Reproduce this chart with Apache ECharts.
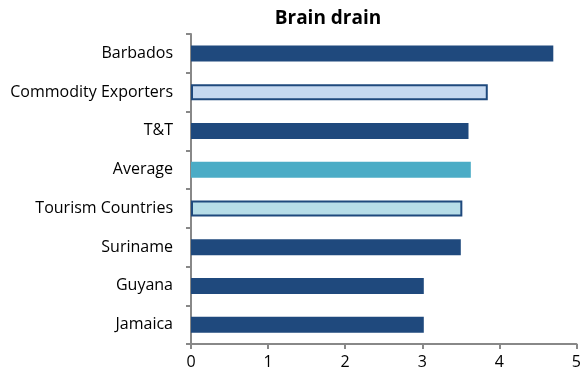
<!DOCTYPE html>
<html><head><meta charset="utf-8">
<script src="https://cdn.jsdelivr.net/npm/echarts@6/dist/echarts.min.js"></script>
<style>html,body{margin:0;padding:0;background:#fff}#c{width:584px;height:383px}</style>
</head><body><div id="c"></div>
<script>
var categories = ["Barbados","Commodity Exporters","T&T","Average","Tourism Countries","Suriname","Guyana","Jamaica"];
var values = [4.70, 3.85, 3.60, 3.63, 3.52, 3.50, 3.02, 3.02];
var xTicks = [0,1,2,3,4,5];

var FONT = "'Open Sans', sans-serif";
function styleFor(name){
  if (name === "Commodity Exporters") return {color:"#c6d9f0", borderColor:"#1f497d", borderWidth:2};
  if (name === "Tourism Countries") return {color:"#b7dde8", borderColor:"#1f497d", borderWidth:2};
  if (name === "Average") return {color:"#4bacc6"};
  return {color:"#1f497d"};
}
var data = categories.map(function(c,i){ return {value: values[i], itemStyle: styleFor(c)}; });

var chart = echarts.init(document.getElementById('c'), null, {renderer:'canvas'});
chart.setOption({
  animation:false,
  backgroundColor:'#fff',
  title:{text:'Brain drain', left:323, top:4, textAlign:'center',
    textStyle:{fontFamily:FONT, fontSize:19, fontWeight:'bold', color:'#000'}},
  grid:{left:191, right:6, top:34, bottom:39, containLabel:false},
  xAxis:{type:'value', min:xTicks[0], max:xTicks[xTicks.length-1], interval:1,
    axisLine:{show:true, lineStyle:{color:'#888', width:2}},
    axisTick:{show:true, length:5, lineStyle:{color:'#888', width:2}},
    splitLine:{show:false},
    axisLabel:{fontFamily:FONT, fontSize:16, color:'#000', margin:10}},
  yAxis:{type:'category', data:categories, inverse:true,
    axisLine:{show:true, lineStyle:{color:'#888', width:2}},
    axisTick:{show:true, length:5, alignWithLabel:false, lineStyle:{color:'#888', width:2}},
    axisLabel:{fontFamily:FONT, fontSize:16, color:'#000', margin:18}},
  series:[{type:'bar', data:data, barWidth:16}]
});
</script></body></html>
